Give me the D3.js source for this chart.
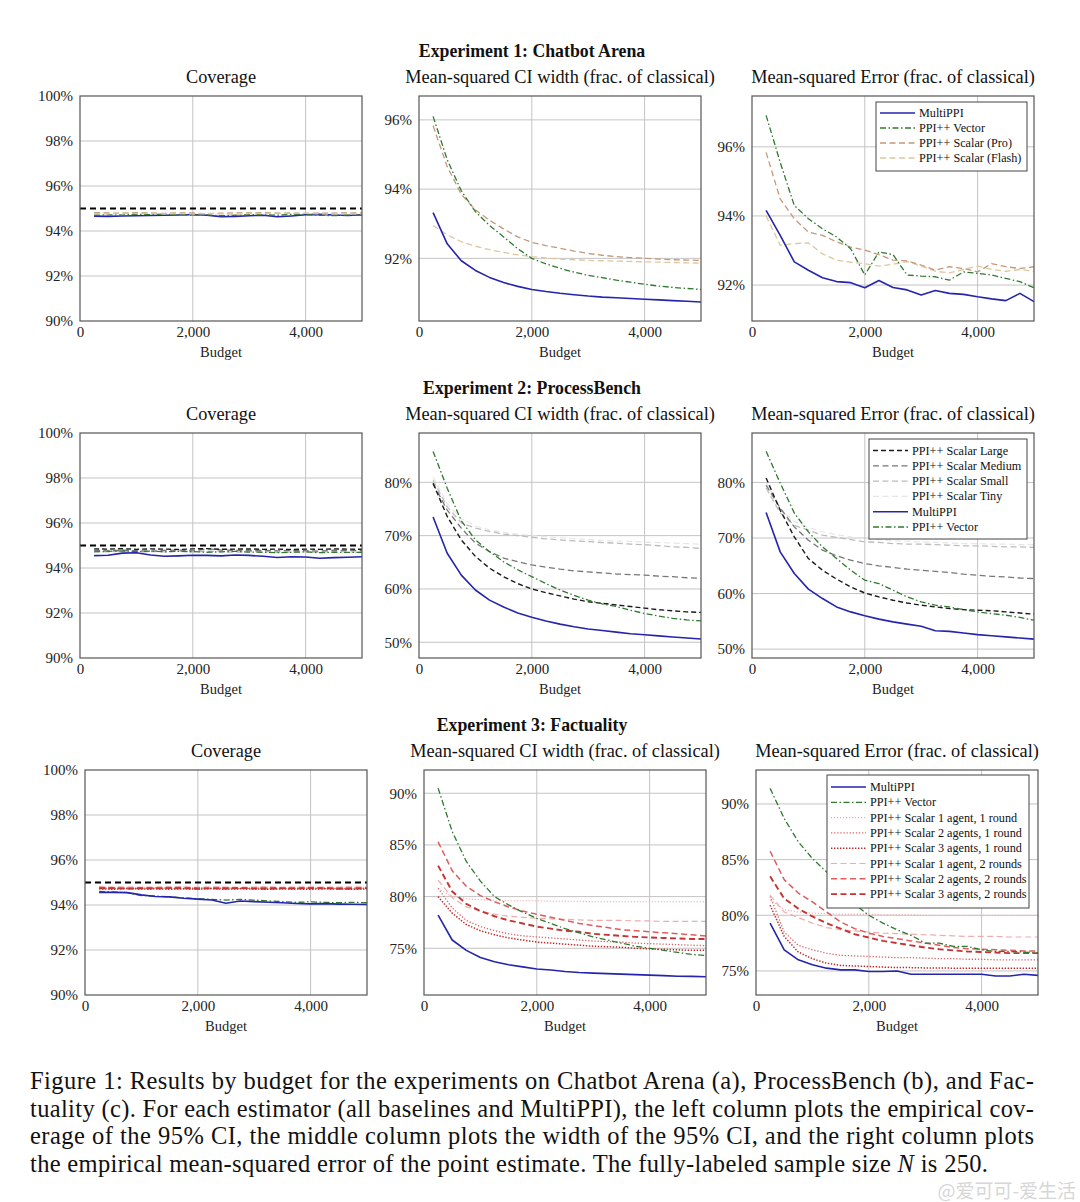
<!DOCTYPE html>
<html>
<head>
<meta charset="utf-8">
<script src="https://cdn.jsdelivr.net/npm/d3@7"></script>
<style>
body { margin: 0; background: #fff; }
svg { display: block; }
</style>
</head>
<body>
<div id="chart"></div>
<script>
'use strict';

//------------------------------------------------------------
// data (budget = x, values in %)
//------------------------------------------------------------
const budgets = [250, 500, 750, 1000, 1250, 1500, 1750, 2000, 2250, 2500,
                 2750, 3000, 3250, 3500, 3750, 4000, 4250, 4500, 4750, 5000];
const xTickValues = [0, 2000, 4000];
const coverageTarget = 95;

const coverageTicks = [90, 92, 94, 96, 98, 100];
const width1Ticks = [92, 94, 96];
const mse1Ticks = [92, 94, 96];
const width2Ticks = [50, 60, 70, 80];
const mse2Ticks = [50, 60, 70, 80];
const width3Ticks = [75, 80, 85, 90];
const mse3Ticks = [75, 80, 85, 90];

// Experiment 1: Chatbot Arena
const cov1Multi  = [94.66,94.65,94.67,94.68,94.69,94.70,94.71,94.73,94.70,94.64,94.65,94.68,94.70,94.63,94.67,94.72,94.74,94.71,94.69,94.72];
const cov1Vector = [94.70,94.72,94.71,94.74,94.73,94.75,94.72,94.70,94.72,94.68,94.70,94.73,94.72,94.70,94.74,94.73,94.70,94.68,94.71,94.70];
const cov1Pro    = [94.82,94.80,94.79,94.82,94.80,94.78,94.81,94.80,94.77,94.79,94.81,94.80,94.82,94.79,94.80,94.78,94.80,94.79,94.81,94.80];
const cov1Flash  = [94.78,94.76,94.80,94.77,94.79,94.76,94.78,94.75,94.78,94.76,94.74,94.77,94.78,94.80,94.77,94.79,94.76,94.75,94.77,94.76];

const wid1Multi  = [93.32,92.42,91.93,91.65,91.45,91.30,91.19,91.10,91.04,90.99,90.95,90.91,90.88,90.86,90.84,90.82,90.80,90.78,90.76,90.74];
const wid1Vector = [96.10,94.85,93.95,93.35,92.95,92.62,92.28,92.00,91.84,91.71,91.60,91.51,91.44,91.37,91.31,91.25,91.20,91.16,91.13,91.10];
const wid1Pro    = [95.83,94.65,93.85,93.40,93.10,92.85,92.62,92.46,92.37,92.29,92.21,92.14,92.09,92.05,92.02,92.00,91.98,91.96,91.95,91.94];
const wid1Flash  = [92.95,92.68,92.48,92.35,92.25,92.17,92.10,92.05,92.01,91.98,91.96,91.94,91.93,91.92,91.91,91.90,91.89,91.88,91.87,91.86];

const mse1Multi  = [94.16,93.44,92.67,92.43,92.21,92.10,92.07,91.92,92.13,91.93,91.86,91.71,91.84,91.76,91.73,91.66,91.60,91.55,91.76,91.52];
const mse1Vector = [96.91,95.55,94.30,93.92,93.63,93.39,93.05,92.29,92.96,92.88,92.29,92.26,92.24,92.14,92.38,92.34,92.29,92.19,92.10,91.92];
const mse1Pro    = [95.84,94.49,93.92,93.53,93.44,93.25,93.10,93.01,92.88,92.72,92.70,92.58,92.43,92.53,92.48,92.38,92.62,92.53,92.48,92.53];
const mse1Flash  = [94.00,93.15,93.20,93.22,92.90,92.72,92.66,92.62,92.55,92.60,92.68,92.55,92.40,92.35,92.45,92.55,92.45,92.40,92.45,92.40];

// Experiment 2: ProcessBench
const cov2Large  = [94.85,94.84,94.86,94.83,94.85,94.84,94.82,94.85,94.86,94.83,94.84,94.85,94.83,94.84,94.82,94.84,94.83,94.85,94.84,94.83];
const cov2Medium = [94.78,94.76,94.79,94.77,94.75,94.78,94.80,94.76,94.86,94.80,94.78,94.77,94.79,94.76,94.78,94.77,94.75,94.79,94.78,94.79];
const cov2Small  = [94.74,94.72,94.75,94.70,94.73,94.72,94.74,94.71,94.74,94.72,94.70,94.72,94.74,94.69,94.71,94.72,94.70,94.73,94.72,94.71];
const cov2Tiny   = [94.80,94.79,94.81,94.78,94.80,94.78,94.79,94.80,94.77,94.79,94.80,94.78,94.79,94.77,94.79,94.78,94.80,94.78,94.79,94.78];
const cov2Multi  = [94.55,94.57,94.66,94.68,94.58,94.52,94.54,94.57,94.56,94.54,94.58,94.56,94.52,94.47,94.50,94.49,94.43,94.46,94.48,94.50];
const cov2Vector = [94.72,94.74,94.76,94.73,94.75,94.72,94.74,94.73,94.70,94.72,94.74,94.71,94.70,94.68,94.70,94.72,94.68,94.70,94.69,94.70];

const wid2Large  = [79.8,73.6,69.2,66.1,63.9,62.3,61.0,60.0,59.3,58.7,58.1,57.6,57.3,57.0,56.7,56.4,56.1,55.9,55.7,55.6];
const wid2Medium = [79.8,74.8,71.4,68.6,67.0,65.8,65.1,64.5,64.1,63.7,63.4,63.2,63.0,62.8,62.7,62.6,62.4,62.3,62.1,62.0];
const wid2Small  = [80.4,75.4,72.4,71.4,70.8,70.3,70.0,69.7,69.4,69.2,69.0,68.9,68.7,68.6,68.4,68.3,68.1,67.9,67.8,67.6];
const wid2Tiny   = [81.0,76.0,73.2,71.8,71.1,70.6,70.3,70.0,69.8,69.6,69.4,69.3,69.1,69.0,68.9,68.8,68.7,68.6,68.5,68.4];
const wid2Multi  = [73.5,66.7,62.6,59.8,57.9,56.6,55.5,54.7,54.0,53.4,52.9,52.5,52.2,51.9,51.6,51.4,51.2,51.0,50.8,50.6];
const wid2Vector = [85.8,78.9,72.8,69.2,67.0,65.1,63.6,62.3,61.0,59.8,58.8,57.9,57.2,56.7,56.0,55.4,54.9,54.5,54.2,54.0];

const mse2Large  = [80.8,75.0,70.2,66.3,64.2,62.6,61.2,60.1,59.4,58.8,58.3,57.9,57.6,57.3,57.1,57.0,56.9,56.7,56.5,56.3];
const mse2Medium = [79.5,75.4,72.0,69.6,67.8,66.8,66.0,65.4,65.0,64.7,64.4,64.2,64.0,63.8,63.5,63.3,63.1,63.0,62.8,62.7];
const mse2Small  = [79.0,74.5,72.3,71.4,70.5,70.1,69.7,69.3,69.2,69.0,68.9,68.9,68.8,68.7,68.6,68.6,68.5,68.4,68.4,68.3];
const mse2Tiny   = [80.0,75.2,73.0,71.9,71.1,70.6,70.2,69.9,69.7,69.5,69.4,69.3,69.2,69.1,69.0,69.0,68.9,68.9,68.8,68.8];
const mse2Multi  = [74.6,67.5,63.6,60.8,59.1,57.6,56.7,56.0,55.4,54.9,54.5,54.1,53.3,53.2,52.9,52.6,52.4,52.2,52.0,51.8];
const mse2Vector = [85.6,79.9,74.5,71.1,68.4,66.3,64.2,62.4,61.8,60.6,59.4,58.5,57.9,57.6,57.1,56.7,56.4,56.1,55.7,55.2];

// Experiment 3: Factuality (S<agents><rounds>)
const cov3Multi  = [94.56,94.56,94.55,94.45,94.38,94.36,94.30,94.26,94.22,94.08,94.18,94.15,94.12,94.10,94.07,94.05,94.06,94.04,94.03,94.02];
const cov3Vector = [94.60,94.58,94.55,94.42,94.40,94.36,94.32,94.28,94.25,94.22,94.25,94.22,94.18,94.15,94.12,94.14,94.12,94.10,94.12,94.10];
const cov3S11 = [94.80,94.78,94.76,94.79,94.77,94.78,94.80,94.77,94.79,94.78,94.76,94.78,94.79,94.77,94.78,94.76,94.78,94.77,94.79,94.78];
const cov3S21 = [94.76,94.74,94.75,94.73,94.76,94.74,94.72,94.75,94.74,94.76,94.73,94.75,94.74,94.72,94.74,94.75,94.73,94.74,94.72,94.74];
const cov3S31 = [94.72,94.70,94.73,94.71,94.72,94.70,94.72,94.71,94.73,94.70,94.72,94.71,94.70,94.72,94.71,94.70,94.72,94.71,94.70,94.72];
const cov3S12 = [94.82,94.80,94.81,94.79,94.80,94.82,94.80,94.79,94.81,94.80,94.78,94.80,94.81,94.79,94.80,94.81,94.79,94.80,94.81,94.80];
const cov3S22 = [94.78,94.76,94.74,94.77,94.75,94.76,94.78,94.76,94.74,94.77,94.76,94.75,94.77,94.76,94.74,94.76,94.77,94.75,94.76,94.75];
const cov3S32 = [94.74,94.75,94.72,94.74,94.73,94.75,94.74,94.72,94.74,94.73,94.75,94.73,94.72,94.74,94.73,94.75,94.74,94.72,94.73,94.74];

const wid3Multi  = [78.2,75.8,74.8,74.1,73.7,73.4,73.2,73.0,72.9,72.75,72.65,72.6,72.55,72.5,72.45,72.4,72.35,72.3,72.28,72.25];
const wid3Vector = [90.5,86.3,83.4,81.5,80.0,79.2,78.5,77.9,77.4,76.9,76.5,76.1,75.8,75.5,75.2,75.0,74.8,74.6,74.4,74.3];
const wid3S11 = [80.8,80.0,79.8,79.7,79.65,79.6,79.6,79.6,79.55,79.55,79.55,79.5,79.5,79.5,79.5,79.5,79.5,79.5,79.5,79.5];
const wid3S21 = [80.8,78.9,77.7,77.1,76.7,76.4,76.2,76.1,76.0,75.9,75.8,75.7,75.65,75.6,75.5,75.45,75.4,75.35,75.3,75.25];
const wid3S31 = [80.0,78.4,77.3,76.7,76.3,76.0,75.8,75.6,75.5,75.4,75.3,75.2,75.15,75.1,75.0,74.95,74.9,74.85,74.8,74.8];
const wid3S12 = [81.6,79.9,79.0,78.6,78.3,78.1,78.0,77.9,77.85,77.8,77.75,77.7,77.7,77.7,77.65,77.65,77.6,77.6,77.6,77.6];
const wid3S22 = [85.3,82.5,81.0,80.1,79.5,79.0,78.6,78.3,78.0,77.7,77.4,77.2,77.0,76.8,76.7,76.6,76.5,76.4,76.3,76.2];
const wid3S32 = [83.0,80.5,79.3,78.6,78.1,77.7,77.4,77.1,76.9,76.7,76.6,76.4,76.3,76.2,76.1,76.05,76.0,75.95,75.9,75.9];

const mse3Multi  = [79.3,76.9,76.0,75.55,75.25,75.1,75.1,74.95,74.95,75.0,74.7,74.7,74.7,74.7,74.7,74.7,74.55,74.55,74.7,74.6];
const mse3Vector = [91.4,88.7,86.6,85.1,83.9,82.4,81.0,80.0,79.3,78.7,78.2,77.5,77.5,77.2,77.2,76.9,76.75,76.75,76.7,76.6];
const mse3S11 = [81.4,80.5,80.3,80.2,80.15,80.1,80.1,80.1,80.05,80.05,80.05,80.0,80.0,80.0,80.0,80.0,80.0,80.0,80.0,80.0];
const mse3S21 = [81.7,78.5,77.3,76.9,76.6,76.4,76.35,76.3,76.25,76.2,76.2,76.15,76.1,76.1,76.05,76.05,76.0,76.0,76.0,76.0];
const mse3S31 = [80.9,78.1,76.7,76.1,75.7,75.5,75.45,75.4,75.35,75.3,75.3,75.27,75.27,75.25,75.25,75.24,75.24,75.24,75.24,75.24];
const mse3S12 = [81.8,80.3,79.8,79.3,78.9,78.7,78.6,78.5,78.4,78.35,78.3,78.25,78.2,78.15,78.1,78.1,78.1,78.05,78.05,78.05];
const mse3S22 = [85.75,83.2,82.0,81.2,80.3,79.4,78.8,78.4,78.1,77.9,77.7,77.5,77.3,77.1,77.0,76.95,76.9,76.85,76.8,76.8];
const mse3S32 = [83.5,81.5,80.6,79.9,79.3,78.8,78.3,78.0,77.7,77.5,77.3,77.1,76.95,76.85,76.75,76.7,76.65,76.6,76.6,76.6];

const seriesNames = {
    multi: "MultiPPI", vector: "PPI++ Vector",
    pro: "PPI++ Scalar (Pro)", flash: "PPI++ Scalar (Flash)",
    large: "PPI++ Scalar Large", medium: "PPI++ Scalar Medium",
    small: "PPI++ Scalar Small", tiny: "PPI++ Scalar Tiny",
    s11: "PPI++ Scalar 1 agent, 1 round", s21: "PPI++ Scalar 2 agents, 1 round",
    s31: "PPI++ Scalar 3 agents, 1 round", s12: "PPI++ Scalar 1 agent, 2 rounds",
    s22: "PPI++ Scalar 2 agents, 2 rounds", s32: "PPI++ Scalar 3 agents, 2 rounds"
};

const experimentTitles = ["Experiment 1: Chatbot Arena", "Experiment 2: ProcessBench", "Experiment 3: Factuality"];
const panelTitles = ["Coverage", "Mean-squared CI width (frac. of classical)", "Mean-squared Error (frac. of classical)"];

const captionLines = [
    "Figure 1: Results by budget for the experiments on Chatbot Arena (a), ProcessBench (b), and Fac-",
    "tuality (c). For each estimator (all baselines and MultiPPI), the left column plots the empirical cov-",
    "erage of the 95% CI, the middle column plots the width of the 95% CI, and the right column plots"
];
const captionLast = ["the empirical mean-squared error of the point estimate. The fully-labeled sample size ", "N", " is 250."];

//------------------------------------------------------------
// styles and layout
//------------------------------------------------------------
const styles = {
    multi:  { color: "#2424ad", width: 1.6, dash: null },
    vector: { color: "#2f7a2f", width: 1.3, dash: "6,2.5,1.5,2.5" },
    pro:    { color: "#c49878", width: 1.3, dash: "6,3.5" },
    flash:  { color: "#dcc79e", width: 1.3, dash: "6,3.5" },
    large:  { color: "#1a1a1a", width: 1.4, dash: "5,3" },
    medium: { color: "#777777", width: 1.3, dash: "6,3.5" },
    small:  { color: "#bcbcbc", width: 1.3, dash: "6,3.5" },
    tiny:   { color: "#e6e6e6", width: 1.2, dash: "6,3.5" },
    s11:    { color: "#f2a8a8", width: 1.1, dash: "1.2,1.8" },
    s21:    { color: "#d86666", width: 1.3, dash: "1.3,1.8" },
    s31:    { color: "#c02828", width: 1.5, dash: "1.4,1.6" },
    s12:    { color: "#f0acac", width: 1.2, dash: "6,3.5" },
    s22:    { color: "#de5c5c", width: 1.5, dash: "6,3.5" },
    s32:    { color: "#c43434", width: 1.9, dash: "6,3.5" },
    target: { color: "#000000", width: 2.2, dash: "6,4" }
};

const W = 1080, H = 1202;
const PW = 282, PH = 225;
const SERIF = "'Liberation Serif', 'Times New Roman', serif";

const svg = d3.select("#chart").append("svg")
    .attr("width", W).attr("height", H)
    .style("font-family", SERIF);

svg.append("rect").attr("width", W).attr("height", H).attr("fill", "#fff");

const rows = [
    {
        top: 96, lefts: [80, 419, 752], title: experimentTitles[0],
        panels: [
            { domain: [90, 100], ticks: coverageTicks, target: true,
              series: { multi: cov1Multi, vector: cov1Vector, pro: cov1Pro, flash: cov1Flash } },
            { domain: [90.19, 96.69], ticks: width1Ticks,
              series: { flash: wid1Flash, pro: wid1Pro, vector: wid1Vector, multi: wid1Multi } },
            { domain: [90.96, 97.47], ticks: mse1Ticks,
              series: { flash: mse1Flash, pro: mse1Pro, vector: mse1Vector, multi: mse1Multi },
              legend: { keys: ["multi", "vector", "pro", "flash"], dx: 124, dy: 6, w: 151, h: 69, first: 11, step: 15 } }
        ]
    },
    {
        top: 433, lefts: [80, 419, 752], title: experimentTitles[1],
        panels: [
            { domain: [90, 100], ticks: coverageTicks, target: true,
              series: { tiny: cov2Tiny, small: cov2Small, medium: cov2Medium, large: cov2Large, vector: cov2Vector, multi: cov2Multi } },
            { domain: [47.05, 89.25], ticks: width2Ticks,
              series: { tiny: wid2Tiny, small: wid2Small, medium: wid2Medium, large: wid2Large, vector: wid2Vector, multi: wid2Multi } },
            { domain: [48.4, 88.9], ticks: mse2Ticks,
              series: { tiny: mse2Tiny, small: mse2Small, medium: mse2Medium, large: mse2Large, vector: mse2Vector, multi: mse2Multi },
              legend: { keys: ["large", "medium", "small", "tiny", "multi", "vector"], dx: 117, dy: 6, w: 158, h: 100, first: 11.5, step: 15.3 } }
        ]
    },
    {
        top: 770, lefts: [85, 424, 756], title: experimentTitles[2],
        panels: [
            { domain: [90, 100], ticks: coverageTicks, target: true,
              series: { s11: cov3S11, s21: cov3S21, s31: cov3S31, s12: cov3S12, s22: cov3S22, s32: cov3S32, vector: cov3Vector, multi: cov3Multi } },
            { domain: [70.48, 92.25], ticks: width3Ticks,
              series: { s11: wid3S11, s21: wid3S21, s31: wid3S31, s12: wid3S12, s22: wid3S22, s32: wid3S32, vector: wid3Vector, multi: wid3Multi } },
            { domain: [72.84, 93.05], ticks: mse3Ticks,
              series: { s11: mse3S11, s21: mse3S21, s31: mse3S31, s12: mse3S12, s22: mse3S22, s32: mse3S32, vector: mse3Vector, multi: mse3Multi },
              legend: { keys: ["multi", "vector", "s11", "s21", "s31", "s12", "s22", "s32"], dx: 71, dy: 5, w: 202, h: 133, first: 12, step: 15.3 } }
        ]
    }
];

//------------------------------------------------------------
// drawing
//------------------------------------------------------------
function styleLine(sel, st) {
    sel.attr("fill", "none")
       .attr("stroke", st.color)
       .attr("stroke-width", st.width)
       .attr("stroke-linejoin", "round")
       .attr("stroke-dasharray", st.dash);
}

let clipCount = 0;

function drawPanel(p, left, top, title) {
    const g = svg.append("g").attr("transform", `translate(${left},${top})`);
    const x = d3.scaleLinear().domain([0, 5000]).range([0, PW]);
    const y = d3.scaleLinear().domain(p.domain).range([PH, 0]);

    // grid
    g.selectAll("line.gx").data(xTickValues.filter(d => d > 0)).join("line")
        .attr("class", "gx")
        .attr("x1", d => x(d)).attr("x2", d => x(d))
        .attr("y1", 0).attr("y2", PH)
        .attr("stroke", "#c4c4c4").attr("stroke-width", 1);
    g.selectAll("line.gy").data(p.ticks.filter(d => y(d) > 0.5 && y(d) < PH - 0.5)).join("line")
        .attr("class", "gy")
        .attr("x1", 0).attr("x2", PW)
        .attr("y1", d => y(d)).attr("y2", d => y(d))
        .attr("stroke", "#c4c4c4").attr("stroke-width", 1);

    const clipId = "clip" + (clipCount++);
    g.append("clipPath").attr("id", clipId)
        .append("rect").attr("width", PW).attr("height", PH);
    const plot = g.append("g").attr("clip-path", `url(#${clipId})`);

    const line = d3.line()
        .x((d, i) => x(budgets[i]))
        .y(d => y(d));

    if (p.target) {
        plot.append("line")
            .attr("x1", 0).attr("x2", PW)
            .attr("y1", y(coverageTarget)).attr("y2", y(coverageTarget))
            .call(styleLine, styles.target);
    }

    Object.keys(p.series).forEach(key => {
        plot.append("path")
            .datum(p.series[key])
            .attr("d", line)
            .call(styleLine, styles[key]);
    });

    // frame
    g.append("rect")
        .attr("width", PW).attr("height", PH)
        .attr("fill", "none").attr("stroke", "#555").attr("stroke-width", 1.2);

    // axes
    const yAxis = g.append("g")
        .call(d3.axisLeft(y).tickValues(p.ticks).tickSize(0).tickPadding(7).tickFormat(d => d + "%"));
    yAxis.select(".domain").remove();
    yAxis.selectAll("text").attr("font-size", 15).attr("font-family", SERIF).attr("fill", "#222");

    const xAxis = g.append("g").attr("transform", `translate(0,${PH})`)
        .call(d3.axisBottom(x).tickValues(xTickValues).tickSize(0).tickPadding(5).tickFormat(d3.format(",")));
    xAxis.select(".domain").remove();
    xAxis.selectAll("text").attr("font-size", 15).attr("font-family", SERIF).attr("fill", "#222");

    g.append("text")
        .attr("x", PW / 2).attr("y", PH + 36)
        .attr("text-anchor", "middle")
        .attr("font-size", 14.5).attr("fill", "#222")
        .text("Budget");

    g.append("text")
        .attr("x", PW / 2).attr("y", -13)
        .attr("text-anchor", "middle")
        .attr("font-size", 18.3).attr("fill", "#111")
        .text(title);

    // legend
    if (p.legend) {
        const L = p.legend;
        const lg = g.append("g").attr("transform", `translate(${L.dx},${L.dy})`);
        lg.append("rect")
            .attr("width", L.w).attr("height", L.h)
            .attr("fill", "#fff").attr("stroke", "#444").attr("stroke-width", 1);
        L.keys.forEach((key, i) => {
            const yy = L.first + i * L.step;
            lg.append("line")
                .attr("x1", 4).attr("x2", 39)
                .attr("y1", yy).attr("y2", yy)
                .call(styleLine, styles[key]);
            lg.append("text")
                .attr("x", 43).attr("y", yy + 4)
                .attr("font-size", 12.2).attr("fill", "#111")
                .text(seriesNames[key]);
        });
    }
}

rows.forEach(row => {
    svg.append("text")
        .attr("x", 532).attr("y", row.top - 39)
        .attr("text-anchor", "middle")
        .attr("font-size", 17.8).attr("font-weight", "bold").attr("fill", "#111")
        .text(row.title);
    row.panels.forEach((p, i) => drawPanel(p, row.lefts[i], row.top, panelTitles[i]));
});

// caption, justified like the source figure
const capBase = [1089, 1117, 1144, 1172];
captionLines.forEach((txt, i) => {
    svg.append("text")
        .attr("x", 30).attr("y", capBase[i])
        .attr("font-size", 24.5).attr("fill", "#111")
        .attr("textLength", 1004).attr("lengthAdjust", "spacing")
        .text(txt);
});
const lastLine = svg.append("text")
    .attr("x", 30).attr("y", capBase[3])
    .attr("font-size", 24.5).attr("fill", "#111")
    .attr("textLength", 958).attr("lengthAdjust", "spacing");
lastLine.append("tspan").text(captionLast[0]);
lastLine.append("tspan").attr("font-style", "italic").text(captionLast[1]);
lastLine.append("tspan").text(captionLast[2]);

// reposting watermark (faint, bottom right, below the caption)
svg.append("text")
    .attr("x", 1076).attr("y", 1198)
    .attr("text-anchor", "end")
    .attr("font-family", "'Noto Sans CJK SC', sans-serif")
    .attr("font-size", 19)
    .attr("fill", "#c4c4c4").attr("fill-opacity", 0.7)
    .text("@爱可可-爱生活");
</script>
</body>
</html>
